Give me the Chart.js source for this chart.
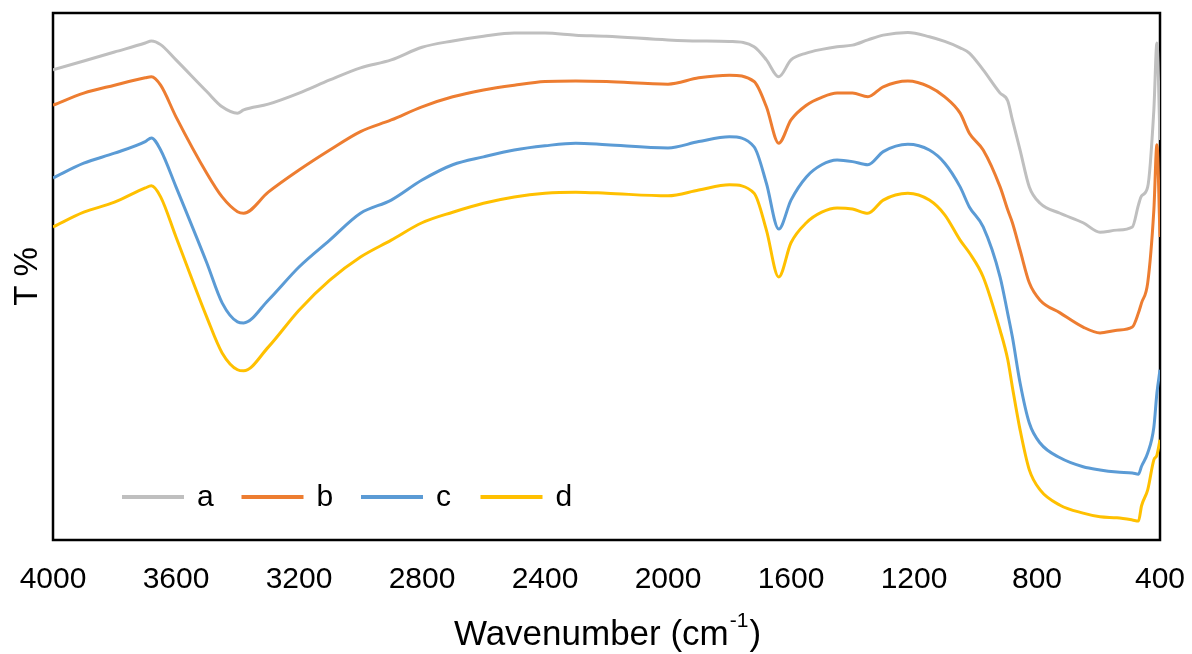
<!DOCTYPE html>
<html>
<head>
<meta charset="utf-8">
<script src="https://cdn.jsdelivr.net/npm/chart.js@4.4.0/dist/chart.umd.min.js"></script>
<style>
  html, body { margin: 0; padding: 0; background: #fff; }
</style>
</head>
<body>
<canvas id="espectro" width="1192" height="654"></canvas>
<script>
const numerosOnda = [4000, 3900, 3800, 3700, 3680, 3650, 3600, 3500, 3450, 3400, 3380, 3300, 3200, 3100, 3000, 2900, 2800, 2700, 2600, 2500, 2400, 2300, 2200, 2000, 1900, 1800, 1720, 1680, 1640, 1600, 1550, 1500, 1450, 1400, 1350, 1300, 1220, 1150, 1100, 1050, 1020, 975, 920, 895, 880, 855, 825, 790, 725, 650, 595, 540, 490, 470, 460, 440, 420, 410, 400]

const serieA = [89.2, 90.9, 92.6, 94.3, 94.7, 94.0, 91.1, 85.1, 82.2, 81.0, 81.6, 82.7, 84.8, 87.3, 89.6, 91.1, 93.5, 94.7, 95.6, 96.2, 96.2, 95.8, 95.6, 94.9, 94.7, 94.6, 93.6, 91.1, 87.9, 91.1, 92.4, 93.1, 93.6, 93.9, 94.9, 95.8, 96.3, 95.5, 94.6, 93.4, 92.4, 89.2, 84.8, 83.3, 79.7, 74.0, 67.0, 63.9, 62.0, 60.2, 58.4, 58.8, 59.4, 63.6, 65.3, 67.0, 81.6, 94.3, 75.9]
const serieB = [82.5, 84.8, 86.3, 87.7, 87.9, 86.3, 80.3, 69.6, 65.1, 62.3, 62.0, 66.0, 70.2, 74.0, 77.5, 79.7, 82.2, 84.1, 85.4, 86.3, 87.0, 87.1, 87.0, 86.5, 87.7, 88.2, 87.0, 82.2, 75.3, 79.7, 82.5, 84.0, 84.8, 84.8, 84.1, 86.0, 87.1, 86.0, 84.1, 81.0, 77.2, 74.0, 67.0, 62.6, 60.2, 55.0, 48.8, 45.5, 43.1, 40.4, 39.3, 39.8, 40.4, 43.1, 45.0, 48.8, 62.6, 75.0, 57.5]
const serieC = [68.7, 71.5, 73.4, 75.6, 76.3, 74.0, 67.0, 52.6, 45.0, 41.4, 41.2, 45.5, 51.8, 56.9, 62.0, 64.5, 68.3, 71.2, 72.7, 74.0, 74.8, 75.3, 75.0, 74.4, 75.6, 76.5, 74.6, 67.7, 59.0, 64.5, 68.9, 71.2, 72.1, 71.8, 71.2, 73.7, 75.1, 74.0, 71.5, 67.0, 63.2, 59.4, 49.9, 42.9, 38.5, 29.8, 22.2, 18.4, 15.6, 13.9, 13.3, 12.9, 12.7, 12.5, 14.0, 16.5, 21.4, 27.9, 32.3]
const serieD = [59.4, 62.2, 64.1, 66.8, 67.2, 65.1, 57.5, 42.3, 35.5, 32.3, 32.1, 36.6, 43.6, 49.3, 53.7, 56.9, 60.2, 62.2, 63.9, 65.1, 65.8, 66.0, 65.8, 65.3, 66.4, 67.4, 65.8, 58.8, 49.9, 56.4, 60.2, 62.2, 63.0, 62.8, 62.0, 64.5, 65.8, 64.5, 61.7, 56.9, 54.5, 49.9, 39.8, 34.2, 29.0, 20.9, 13.3, 9.5, 6.6, 5.1, 4.4, 4.2, 3.8, 3.6, 6.5, 9.5, 15.2, 16.1, 19.0]

const rotulos = ['a', 'b', 'c', 'd']
const cores = ['#BFBFBF', '#ED7D31', '#5B9BD5', '#FFC000']
const series = [serieA, serieB, serieC, serieD]

const fonte = 'Liberation Sans, Arial, sans-serif'

function pontos(valores) {
  var lista = []
  for (var i = 0; i < numerosOnda.length; i++) {
    lista.push({ x: numerosOnda[i], y: valores[i] })
  }
  return lista
}

var datasets = []
for (var i = 0; i < series.length; i++) {
  datasets.push({
    label: rotulos[i],
    data: pontos(series[i]),
    borderColor: cores[i],
    backgroundColor: cores[i],
    borderWidth: 3,
    pointRadius: 0,
    fill: false,
    cubicInterpolationMode: 'monotone'
  })
}

// black box around the plot area, drawn under the curves
const moldura = {
  id: 'moldura',
  beforeDatasetsDraw(chart) {
    const ctx = chart.ctx
    const a = chart.chartArea
    ctx.save()
    ctx.strokeStyle = '#000'
    ctx.lineWidth = 2.5
    ctx.strokeRect(a.left, a.top, a.right - a.left, a.bottom - a.top)
    ctx.restore()
  }
}

// legend inside the plot, bottom left
const legendaInterna = {
  id: 'legendaInterna',
  afterDraw(chart) {
    const ctx = chart.ctx
    const a = chart.chartArea
    const y = a.bottom - 43
    ctx.save()
    ctx.font = '30px ' + fonte
    ctx.textBaseline = 'middle'
    ctx.fillStyle = '#000'
    chart.data.datasets.forEach(function (ds, i) {
      var x0 = a.left + 69 + i * 119.5
      ctx.strokeStyle = ds.borderColor
      ctx.lineWidth = 4
      ctx.beginPath()
      ctx.moveTo(x0, y)
      ctx.lineTo(x0 + 62, y)
      ctx.stroke()
      ctx.fillText(ds.label, x0 + 75, y + 1)
    })
    ctx.restore()
  }
}

// x axis title with a real superscript
const tituloX = {
  id: 'tituloX',
  afterDraw(chart) {
    const ctx = chart.ctx
    const a = chart.chartArea
    const partes = ['Wavenumber (cm', '-1', ')']
    ctx.save()
    ctx.fillStyle = '#000'
    ctx.textBaseline = 'alphabetic'
    ctx.font = '35px ' + fonte
    var w0 = ctx.measureText(partes[0]).width
    var w2 = ctx.measureText(partes[2]).width
    ctx.font = '21px ' + fonte
    var w1 = ctx.measureText(partes[1]).width
    var x = (a.left + a.right) / 2 - (w0 + w1 + w2) / 2
    var base = 645
    ctx.font = '35px ' + fonte
    ctx.fillText(partes[0], x, base)
    ctx.font = '21px ' + fonte
    ctx.fillText(partes[1], x + w0 + 1, base - 18)
    ctx.font = '35px ' + fonte
    ctx.fillText(partes[2], x + w0 + w1 + 2, base)
    ctx.restore()
  }
}

new Chart(document.getElementById('espectro'), {
  type: 'line',
  data: { datasets: datasets },
  options: {
    responsive: false,
    animation: false,
    devicePixelRatio: 1,
    layout: { padding: { top: 13, right: 32, left: 0, bottom: 0 } },
    plugins: {
      legend: { display: false },
      tooltip: { enabled: false }
    },
    scales: {
      x: {
        type: 'linear',
        reverse: true,
        min: 400,
        max: 4000,
        grid: { display: false, drawTicks: false },
        border: { display: false },
        ticks: {
          stepSize: 400,
          autoSkip: false,
          maxRotation: 0,
          padding: 22,
          color: '#000',
          font: { family: fonte, size: 30 },
          callback: function (v) { return String(v) }
        },
        title: { display: false, text: 'Wavenumber (cm-1)' },
        afterFit: function (s) {
          s.height = 114
          s.paddingLeft = 0
          s.paddingRight = 0
        }
      },
      y: {
        min: 0,
        max: 100,
        grid: { display: false, drawTicks: false },
        border: { display: false },
        ticks: { display: false },
        title: {
          display: true,
          text: 'T %',
          color: '#000',
          font: { family: fonte, size: 33 },
          padding: { top: 8, bottom: 0 }
        },
        afterFit: function (s) { s.width = 53 }
      }
    }
  },
  plugins: [moldura, legendaInterna, tituloX]
});
</script>
</body>
</html>
